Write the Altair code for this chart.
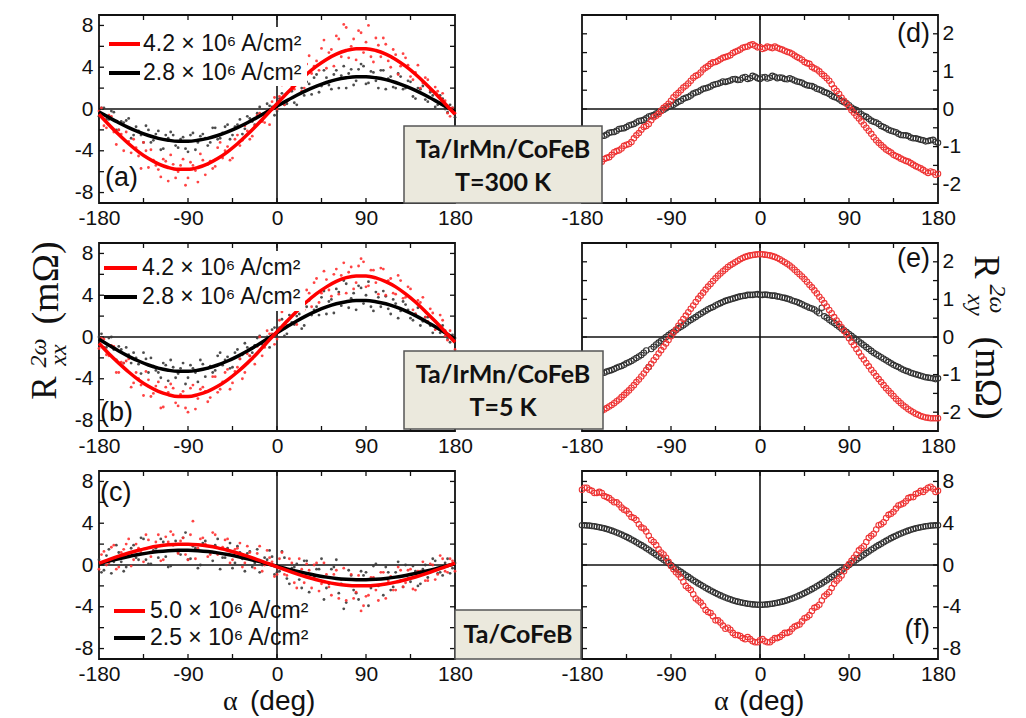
import altair as alt
import pandas as pd

# ---------------- data ----------------
ANG5 = list(range(-180, 185, 5))               # angles of measured points
ANGM = [a + 2.5 for a in range(-180, 180, 5)]  # in-between angles (second sweep)
ANG10 = list(range(-180, 190, 10))             # angles of fitted curves

# (a) Ta/IrMn/CoFeB, 300 K  -- R_xx
a_red_dots = [-0.2, -1.6, -0.6, -2.2, -2.0, -4.0, -3.1, -2.9, -4.5, -3.2,
              -5.6, -4.9, -5.8, -4.8, -6.9, -5.3, -6.0, -4.8, -6.6, -5.4,
              -7.0, -4.9, -5.3, -5.7, -3.7, -4.7, -3.6, -4.7, -2.5, -3.0,
              -2.1, -2.6, -0.6, -1.2, -0.2, 0.7, 0.0, 2.3, 0.7, 2.2,
              3.1, 1.7, 4.3, 3.4, 4.6, 5.8, 3.9, 5.7, 7.0, 5.0,
              7.8, 6.0, 4.7, 7.3, 6.4, 5.0, 6.8, 5.0, 6.2, 4.0,
              5.2, 4.1, 4.9, 3.1, 3.5, 2.0, 3.0, 1.8, 2.1, 0.6,
              0.8, -0.7, -0.4]
a_red_mid = [0.1, -1.8, -0.7, -3.4, -2.4, -2.2, -4.2, -3.7, -5.7, -4.0,
             -3.9, -5.4, -6.5, -5.0, -4.4, -6.6, -5.4, -7.3, -5.1, -5.9,
             -4.3, -6.3, -5.0, -5.5, -3.2, -4.0, -4.9, -2.9, -3.5, -1.6,
             -2.9, -1.6, -0.4, -1.3, -1.5, 1.1, 1.2, 0.4, 3.0, 1.9,
             3.4, 2.0, 5.1, 4.1, 3.7, 6.6, 5.4, 4.1, 6.7, 8.1,
             4.9, 6.7, 7.5, 5.4, 8.0, 4.5, 6.1, 6.8, 4.6, 5.7,
             3.3, 5.3, 4.2, 2.8, 4.2, 2.5, 2.8, 0.9, 1.7, 1.5,
             -0.4, 0.1]
a_blk_dots = [-0.7, 0.1, -1.0, -0.3, -2.0, -1.3, -0.9, -2.5, -2.1, -3.2,
              -2.0, -3.0, -2.1, -3.8, -2.8, -2.5, -3.7, -2.7, -4.1, -2.3,
              -3.2, -2.4, -3.5, -1.8, -2.9, -2.3, -1.5, -2.5, -1.5, -2.4,
              -0.7, -1.2, -0.4, -1.1, 0.5, 0.2, -0.2, 1.5, 0.5, 1.7,
              0.4, 2.0, 2.6, 1.4, 3.3, 2.2, 3.0, 1.9, 3.7, 3.2,
              2.0, 3.8, 2.7, 4.3, 2.4, 3.6, 2.7, 3.7, 1.9, 3.1,
              2.0, 3.1, 2.0, 2.6, 1.0, 1.9, 0.9, 1.6, 0.2, 1.3,
              0.0, 0.4, -0.8]
a_blk_mid = [0.1, -1.0, -0.2, -2.0, -1.2, -1.1, -2.8, -1.7, -2.5, -1.6,
             -3.2, -2.4, -3.9, -2.5, -2.2, -3.5, -2.9, -3.8, -2.5, -3.9,
             -2.6, -2.8, -3.2, -1.8, -2.8, -1.7, -2.9, -1.7, -1.0, -1.9,
             -0.9, -1.5, 0.2, -0.6, 0.3, -0.6, 1.0, 0.4, 1.7, 0.6,
             2.4, 1.3, 2.4, 3.0, 1.6, 3.7, 2.3, 3.3, 2.0, 4.1,
             3.4, 2.3, 3.8, 4.1, 2.5, 3.5, 2.0, 3.7, 2.9, 2.1,
             3.4, 1.9, 2.7, 1.2, 2.0, 2.2, 0.7, 1.3, 0.4, 1.0,
             -0.3, 0.1]
a_red_fit = [-0.5, -1.5, -2.45, -3.33, -4.1, -4.75, -5.25, -5.6, -5.78, -5.78,
             -5.6, -5.25, -4.75, -4.1, -3.33, -2.45, -1.5, -0.5, 0.5, 1.5,
             2.45, 3.33, 4.1, 4.75, 5.25, 5.6, 5.78, 5.78, 5.6, 5.25,
             4.75, 4.1, 3.33, 2.45, 1.5, 0.5, -0.5]
a_blk_fit = [-0.27, -0.8, -1.31, -1.78, -2.19, -2.54, -2.81, -2.99, -3.09, -3.09,
             -2.99, -2.81, -2.54, -2.19, -1.78, -1.31, -0.8, -0.27, 0.27, 0.8,
             1.31, 1.78, 2.19, 2.54, 2.81, 2.99, 3.09, 3.09, 2.99, 2.81,
             2.54, 2.19, 1.78, 1.31, 0.8, 0.27, -0.27]

# (b) Ta/IrMn/CoFeB, 5 K  -- R_xx
b_red_dots = [-1.1, -0.2, -1.8, -0.9, -3.4, -2.5, -2.1, -4.4, -4.0, -5.6,
              -4.1, -5.4, -4.3, -6.7, -5.3, -4.9, -6.6, -5.2, -7.2, -4.6,
              -5.9, -4.8, -6.2, -3.8, -5.3, -4.3, -3.1, -4.4, -2.9, -4.0,
              -1.6, -2.1, -0.9, -1.8, 0.6, 0.3, -0.2, 2.4, 1.1, 2.8,
              1.2, 3.5, 4.5, 2.9, 5.6, 4.2, 5.5, 3.9, 6.5, 5.9,
              4.2, 6.7, 5.2, 7.5, 4.8, 6.4, 5.2, 6.6, 4.0, 5.6,
              4.1, 5.4, 3.8, 4.6, 2.2, 3.3, 1.9, 2.7, 0.7, 2.1,
              0.1, 0.6, -1.2]
b_red_mid = [-0.1, -1.7, -0.8, -3.4, -2.4, -2.3, -4.8, -3.4, -4.6, -3.3,
             -5.7, -4.7, -6.8, -4.8, -4.5, -6.3, -5.5, -6.8, -4.9, -6.9,
             -5.0, -5.2, -5.8, -3.8, -5.0, -3.4, -5.0, -3.3, -2.1, -3.4,
             -1.8, -2.6, 0.0, -1.0, 0.3, -0.7, 1.6, 0.8, 2.9, 1.4,
             4.1, 2.6, 4.2, 5.2, 3.3, 6.3, 4.5, 6.0, 4.1, 7.1,
             6.2, 4.6, 6.8, 7.2, 4.9, 6.4, 4.1, 6.5, 5.4, 4.2,
             5.9, 3.7, 4.8, 2.6, 3.5, 3.8, 1.5, 2.3, 0.8, 1.6,
             -0.3, 0.0]
b_blk_dots = [0.0, -1.0, -0.1, -1.2, -0.9, -2.5, -1.7, -1.5, -2.6, -1.5,
              -3.4, -2.8, -3.4, -2.5, -4.2, -2.9, -3.5, -2.5, -3.9, -3.0,
              -4.3, -2.6, -3.0, -3.4, -1.8, -2.7, -1.9, -2.9, -1.2, -1.7,
              -1.0, -1.5, -0.1, -0.7, 0.0, 0.7, 0.0, 1.7, 0.3, 1.4,
              2.0, 0.8, 2.9, 2.1, 2.9, 3.8, 2.2, 3.6, 4.6, 3.0,
              5.1, 3.7, 2.6, 4.7, 4.0, 2.9, 4.3, 2.9, 3.9, 2.2,
              3.2, 2.5, 3.1, 1.8, 2.2, 1.1, 1.9, 1.1, 1.5, 0.4,
              0.6, -0.5, -0.1]
b_blk_mid = [0.3, -1.0, 0.0, -2.2, -1.2, -1.0, -2.5, -2.0, -3.5, -2.1,
             -2.0, -3.2, -3.9, -2.7, -2.2, -3.9, -3.0, -4.5, -2.7, -3.4,
             -2.2, -3.8, -2.8, -3.2, -1.5, -2.2, -3.0, -1.5, -2.1, -0.6,
             -1.8, -0.8, 0.1, -0.8, -1.0, 0.9, 0.9, 0.1, 2.1, 1.2,
             2.2, 1.1, 3.5, 2.6, 2.1, 4.4, 3.4, 2.3, 4.3, 5.4,
             2.8, 4.2, 4.9, 3.2, 5.3, 2.5, 3.8, 4.4, 2.7, 3.6,
             1.8, 3.4, 2.6, 1.6, 2.8, 1.5, 1.9, 0.4, 1.2, 1.1,
             -0.2, 0.2]
b_red_fit = [-0.6, -1.6, -2.5, -3.35, -4.1, -4.72, -5.2, -5.52, -5.7, -5.7,
             -5.52, -5.2, -4.72, -4.1, -3.35, -2.5, -1.55, -0.5, 0.5, 1.5,
             2.47, 3.37, 4.15, 4.8, 5.32, 5.68, 5.85, 5.85, 5.66, 5.3,
             4.8, 4.13, 3.35, 2.45, 1.5, 0.5, -0.5]
b_blk_fit = [-0.2, -0.78, -1.34, -1.85, -2.3, -2.68, -2.98, -3.18, -3.29, -3.29,
             -3.18, -2.98, -2.68, -2.3, -1.85, -1.34, -0.78, -0.2, 0.4, 0.98,
             1.54, 2.05, 2.5, 2.88, 3.18, 3.38, 3.49, 3.49, 3.38, 3.18,
             2.88, 2.5, 2.05, 1.54, 0.98, 0.4, -0.2]

# (c) Ta/CoFeB -- R_xx
c_red_dots = [-0.4, 1.3, 0.2, 1.9, -0.2, 1.5, 2.5, 0.5, 1.6, 0.3,
              2.4, 1.3, 2.9, 0.5, 2.2, 2.9, 1.1, 2.6, 0.5, 4.2,
              1.6, 2.6, 0.8, 3.1, 1.0, 1.7, 2.5, 0.5, 1.6, -0.2,
              1.8, 0.5, 1.1, -0.6, 1.4, 0.3, -0.9, 1.2, -1.0, 0.2,
              -2.2, -0.4, 0.1, -2.2, 0.2, -1.8, -0.9, -2.9, -0.5, -1.4,
              -3.4, -0.9, -2.6, -4.4, -3.0, -1.2, -2.4, -0.7, -3.2, -1.1,
              -2.4, -0.5, -1.7, -0.4, -2.4, -0.6, -1.5, 0.1, -1.4, 0.9,
              -0.6, 0.6, -0.6]
c_red_mid = [1.0, 0.0, 1.7, -0.4, 1.2, 2.0, -0.1, 2.0, 1.2, 2.9,
             0.8, 2.2, 0.4, 2.7, 3.2, 1.4, 2.3, 1.0, 2.9, 0.6,
             2.5, 2.0, 1.0, 2.9, 1.1, 2.4, 0.2, 1.5, 2.1, 0.2,
             1.2, -0.3, 1.8, 0.0, 0.7, -1.1, 0.6, -0.9, 0.6, -1.7,
             0.6, -1.7, -0.5, 0.0, -2.5, 0.2, -2.1, -0.9, -3.2, -0.3,
             -1.4, -3.2, -1.0, -3.9, -2.9, -1.2, -3.4, -0.7, -1.5, -2.4,
             -0.2, -2.1, -0.5, -2.3, -0.6, 0.3, -1.5, 0.0, -0.9, 0.6,
             -0.7, 0.4]
c_blk_dots = [0.5, -0.5, 1.5, 0.3, 1.2, -0.6, 1.1, 1.9, 0.5, 2.5,
              0.1, 1.4, 0.7, 2.2, -0.2, 1.9, 1.2, 2.6, 0.5, 1.8,
              -0.3, 2.1, 1.3, 0.4, 2.5, 0.7, 1.6, -0.3, 1.8, 0.6,
              1.1, -0.2, 1.5, 0.0, 0.5, 0.8, -0.7, 1.3, -1.3, -0.3,
              0.1, -2.2, 0.4, -1.3, -0.4, 0.6, -2.2, -0.4, 0.5, -1.8,
              -3.6, -1.0, -2.7, -0.6, -0.7, -2.2, 0.1, -1.9, -0.2, -2.4,
              -0.7, -1.5, 0.0, -1.6, -0.6, -1.8, 0.0, -0.7, 0.4, -0.7,
              0.2, -0.8, 0.2]
c_blk_mid = [-0.7, 0.9, -0.8, 1.9, 0.3, -0.2, 1.6, 0.7, 2.6, 0.5,
             0.1, 1.6, 2.5, 0.8, -0.1, 2.3, 1.0, 3.1, 0.6, 1.6,
             0.0, 2.3, 1.2, 1.9, -0.4, 0.7, 2.1, 0.2, 1.2, -0.6,
             1.3, 0.2, -0.7, 0.7, 1.4, -0.9, -0.6, 0.7, -1.8, -0.2,
             -1.4, 0.4, -2.6, -1.2, -0.4, -3.3, -1.8, -0.2, -2.7, -4.2,
             -0.5, -2.4, -3.3, -1.0, -3.9, -0.1, -2.0, -2.9, -0.7, -2.1,
             0.3, -2.1, -1.3, -0.1, -2.0, -0.4, -1.2, 0.6, -0.8, -1.0,
             0.6, -0.3]
c_red_fit = [0.17, 0.52, 0.85, 1.15, 1.41, 1.64, 1.81, 1.93, 1.99, 1.99,
             1.93, 1.81, 1.64, 1.41, 1.15, 0.85, 0.52, 0.17, -0.17, -0.52,
             -0.85, -1.15, -1.41, -1.64, -1.81, -1.93, -1.99, -1.99, -1.93, -1.81,
             -1.64, -1.41, -1.15, -0.85, -0.52, -0.17, 0.17]
c_blk_fit = [0.12, 0.37, 0.6, 0.82, 1.0, 1.16, 1.29, 1.37, 1.41, 1.41,
             1.37, 1.29, 1.16, 1.0, 0.82, 0.6, 0.37, 0.12, -0.12, -0.37,
             -0.6, -0.82, -1.0, -1.16, -1.29, -1.37, -1.41, -1.41, -1.37, -1.29,
             -1.16, -1.0, -0.82, -0.6, -0.37, -0.12, 0.12]

# (d) 300 K -- R_xy
d_red = [-1.60, -1.52, -1.55, -1.45, -1.40, -1.30, -1.22, -1.12, -1.05, -0.95,
         -0.88, -0.70, -0.55, -0.45, -0.30, -0.18, -0.05, 0.08, 0.22, 0.38,
         0.50, 0.62, 0.75, 0.88, 0.97, 1.10, 1.20, 1.25, 1.32, 1.38,
         1.43, 1.52, 1.58, 1.65, 1.70, 1.68, 1.65, 1.62, 1.64, 1.66,
         1.60, 1.55, 1.50, 1.42, 1.35, 1.25, 1.20, 1.08, 1.00, 0.88,
         0.75, 0.55, 0.40, 0.22, 0.05, -0.10, -0.25, -0.42, -0.58, -0.75,
         -0.90, -1.02, -1.12, -1.22, -1.28, -1.35, -1.40, -1.48, -1.55, -1.62,
         -1.70, -1.68, -1.72]
d_red_mid = [-1.58, -1.50, -1.48, -1.44, -1.33, -1.28, -1.15, -1.10, -0.98, -0.93,
             -0.78, -0.64, -0.48, -0.40, -0.22, -0.13, 0.03, 0.14, 0.31, 0.43,
             0.57, 0.68, 0.83, 0.91, 1.05, 1.14, 1.24, 1.28, 1.36, 1.40,
             1.49, 1.55, 1.63, 1.66, 1.72, 1.64, 1.60, 1.66, 1.62, 1.63,
             1.58, 1.52, 1.47, 1.38, 1.31, 1.22, 1.12, 1.05, 0.93, 0.82,
             0.66, 0.48, 0.30, 0.14, -0.03, -0.18, -0.33, -0.50, -0.66, -0.83,
             -0.96, -1.08, -1.16, -1.25, -1.32, -1.38, -1.44, -1.52, -1.58, -1.66,
             -1.66, -1.75]
d_blk = [-0.85, -0.82, -0.78, -0.80, -0.72, -0.68, -0.62, -0.58, -0.52, -0.48,
         -0.42, -0.36, -0.31, -0.25, -0.18, -0.12, -0.05, 0.02, 0.08, 0.15,
         0.22, 0.30, 0.36, 0.44, 0.50, 0.55, 0.60, 0.66, 0.70, 0.72,
         0.76, 0.80, 0.78, 0.85, 0.82, 0.86, 0.80, 0.85, 0.83, 0.86,
         0.84, 0.80, 0.82, 0.76, 0.72, 0.66, 0.62, 0.58, 0.52, 0.45,
         0.40, 0.32, 0.26, 0.18, 0.10, 0.00, -0.08, -0.18, -0.26, -0.34,
         -0.40, -0.48, -0.55, -0.60, -0.66, -0.70, -0.72, -0.78, -0.80, -0.83,
         -0.85, -0.82, -0.90]
d_blk_mid = [-0.80, -0.84, -0.76, -0.75, -0.71, -0.63, -0.61, -0.53, -0.51, -0.44,
             -0.40, -0.32, -0.29, -0.20, -0.16, -0.08, -0.02, 0.06, 0.11, 0.19,
             0.27, 0.32, 0.41, 0.46, 0.54, 0.57, 0.64, 0.67, 0.73, 0.74,
             0.79, 0.77, 0.83, 0.80, 0.88, 0.82, 0.84, 0.81, 0.88, 0.82,
             0.83, 0.79, 0.79, 0.73, 0.70, 0.63, 0.61, 0.54, 0.49, 0.43,
             0.35, 0.30, 0.21, 0.15, 0.04, -0.03, -0.14, -0.21, -0.31, -0.36,
             -0.45, -0.51, -0.58, -0.62, -0.69, -0.70, -0.76, -0.78, -0.82, -0.86,
             -0.83, -0.87]

# (e) 5 K -- R_xy
e_red = [-2.08, -2.07, -2.05, -2.02, -1.96, -1.89, -1.81, -1.71, -1.60, -1.48,
         -1.35, -1.20, -1.05, -0.88, -0.71, -0.53, -0.35, -0.17, 0.02, 0.20,
         0.39, 0.57, 0.75, 0.93, 1.10, 1.26, 1.41, 1.56, 1.69, 1.80,
         1.91, 1.99, 2.07, 2.13, 2.17, 2.19, 2.20, 2.19, 2.17, 2.13,
         2.07, 1.99, 1.90, 1.79, 1.67, 1.54, 1.39, 1.24, 1.07, 0.90,
         0.72, 0.53, 0.35, 0.16, -0.03, -0.22, -0.41, -0.60, -0.78, -0.95,
         -1.12, -1.28, -1.43, -1.57, -1.70, -1.82, -1.92, -2.00, -2.07, -2.12,
         -2.15, -2.16, -2.16]
e_red_mid = [-2.08, -2.06, -2.04, -1.99, -1.93, -1.85, -1.76, -1.66, -1.54, -1.42,
             -1.28, -1.13, -0.97, -0.80, -0.62, -0.44, -0.26, -0.08, 0.11, 0.30,
             0.48, 0.66, 0.84, 1.02, 1.18, 1.34, 1.49, 1.63, 1.75, 1.86,
             1.95, 2.03, 2.10, 2.15, 2.18, 2.20, 2.20, 2.18, 2.15, 2.10,
             2.03, 1.95, 1.85, 1.73, 1.61, 1.47, 1.32, 1.16, 0.99, 0.81,
             0.63, 0.44, 0.26, 0.07, -0.13, -0.32, -0.51, -0.69, -0.87, -1.04,
             -1.20, -1.36, -1.50, -1.64, -1.76, -1.87, -1.96, -2.04, -2.10, -2.14,
             -2.16, -2.16]
e_blk = [-1.02, -1.05, -1.00, -0.98, -0.96, -0.92, -0.88, -0.82, -0.77, -0.70,
         -0.64, -0.56, -0.48, -0.36, -0.32, -0.20, -0.10, 0.00, 0.10, 0.18,
         0.27, 0.36, 0.45, 0.53, 0.62, 0.70, 0.77, 0.84, 0.90, 0.96,
         1.00, 1.04, 1.08, 1.10, 1.12, 1.13, 1.12, 1.13, 1.11, 1.10,
         1.07, 1.04, 1.00, 0.95, 0.90, 0.84, 0.78, 0.73, 0.63, 0.55,
         0.46, 0.37, 0.27, 0.18, 0.08, -0.02, -0.12, -0.22, -0.32, -0.42,
         -0.50, -0.58, -0.66, -0.74, -0.80, -0.87, -0.92, -0.97, -1.01, -1.05,
         -1.08, -1.10, -1.10]
e_blk_mid = [-1.06, -1.01, -1.00, -0.96, -0.95, -0.90, -0.85, -0.79, -0.74, -0.67,
             -0.60, -0.52, -0.42, -0.80, -0.26, -0.15, -0.05, 0.05, 0.14, 0.23,
             0.31, 0.41, 0.49, 0.58, 0.66, 0.74, 0.80, 0.87, 0.93, 0.98,
             1.02, 1.06, 1.09, 1.12, 1.12, 1.14, 1.12, 1.12, 1.10, 1.08,
             1.05, 1.02, 0.97, 0.93, 0.87, 0.81, 0.76, 0.68, 0.78, 0.51,
             0.41, 0.32, 0.22, 0.13, 0.03, -0.07, -0.17, -0.27, -0.37, -0.46,
             -0.54, -0.62, -0.70, -0.77, -0.84, -0.90, -0.95, -0.99, -1.03, -1.07,
             -1.09, -1.12]

# (f) Ta/CoFeB -- R_xy
f_red = [7.2, 7.4, 7.1, 6.9, 6.9, 6.5, 6.2, 6.0, 5.5, 5.2,
         4.6, 4.3, 3.6, 3.2, 2.4, 1.9, 1.2, 0.7, -0.1, -0.7,
         -1.2, -2.0, -2.4, -3.2, -3.6, -4.3, -4.6, -5.3, -5.5, -6.1,
         -6.2, -6.7, -6.8, -7.1, -7.1, -7.4, -7.2, -7.3, -7.4, -7.0,
         -6.9, -6.5, -6.4, -5.9, -5.7, -5.1, -4.8, -4.1, -3.8, -3.0,
         -2.6, -1.8, -1.3, -0.6, 0.1, 0.7, 1.4, 1.8, 2.6, 3.0,
         3.8, 4.1, 4.8, 5.1, 5.7, 5.9, 6.4, 6.5, 6.9, 7.0,
         7.4, 7.3, 7.1]
f_red_mid = [7.4, 7.2, 6.9, 7.0, 6.6, 6.4, 6.0, 5.8, 5.3, 4.9,
             4.5, 3.9, 3.5, 2.8, 2.2, 1.5, 1.0, 0.3, -0.4, -0.9,
             -1.6, -2.2, -2.8, -3.4, -3.9, -4.5, -4.9, -5.3, -5.8, -6.0,
             -6.5, -6.7, -7.0, -6.9, -7.3, -7.4, -7.1, -7.4, -7.2, -7.0,
             -6.7, -6.5, -6.1, -5.8, -5.4, -5.0, -4.4, -4.0, -3.4, -2.8,
             -2.2, -1.5, -1.0, -0.2, 0.4, 1.0, 1.6, 2.2, 2.8, 3.4,
             3.9, 4.5, 4.9, 5.4, 5.8, 6.1, 6.5, 6.8, 7.1, 7.2,
             7.5, 7.0]
f_blk = [3.80, 3.79, 3.74, 3.67, 3.57, 3.44, 3.29, 3.11, 2.91, 2.69,
         2.44, 2.18, 1.90, 1.61, 1.30, 0.98, 0.66, 0.33, 0.00, -0.33,
         -0.66, -0.98, -1.30, -1.61, -1.90, -2.18, -2.44, -2.69, -2.91, -3.11,
         -3.29, -3.44, -3.57, -3.67, -3.74, -3.79, -3.80, -3.79, -3.74, -3.67,
         -3.57, -3.44, -3.29, -3.11, -2.91, -2.69, -2.44, -2.18, -1.90, -1.61,
         -1.30, -0.98, -0.66, -0.33, 0.00, 0.33, 0.66, 0.98, 1.30, 1.61,
         1.90, 2.18, 2.44, 2.69, 2.91, 3.11, 3.29, 3.44, 3.57, 3.67,
         3.74, 3.79, 3.80]
f_blk_mid = [3.80, 3.77, 3.71, 3.62, 3.51, 3.37, 3.20, 3.01, 2.80, 2.57,
             2.31, 2.04, 1.76, 1.46, 1.14, 0.82, 0.50, 0.17, -0.17, -0.50,
             -0.82, -1.14, -1.46, -1.76, -2.04, -2.31, -2.57, -2.80, -3.01, -3.20,
             -3.37, -3.51, -3.62, -3.71, -3.77, -3.80, -3.80, -3.77, -3.71, -3.62,
             -3.51, -3.37, -3.20, -3.01, -2.80, -2.57, -2.31, -2.04, -1.76, -1.46,
             -1.14, -0.82, -0.50, -0.17, 0.17, 0.50, 0.82, 1.14, 1.46, 1.76,
             2.04, 2.31, 2.57, 2.80, 3.01, 3.20, 3.37, 3.51, 3.62, 3.71,
             3.77, 3.80]

X_LABELS = [-180, -90, 0, 90, 180]
X_TICKS = [-135, -90, -45, 0, 45, 90, 135]
Y_LAB_BIG = [-8, -4, 0, 4, 8]
Y_TICK_BIG = [-8, -6, -4, -2, 0, 2, 4, 6, 8]
Y_LAB_SMALL = [-2, -1, 0, 1, 2]
Y_TICK_SMALL = [-2, -1.5, -1, -0.5, 0, 0.5, 1, 1.5, 2]

# ---------------- style ----------------
W, H = 356, 188
FONT = "Liberation Sans"
SERIF = "Liberation Serif"
BOX_FONT = "Lato"
RED_LINE = "#ff0000"
RED_DOT = "#ff3030"
RED_CIRC = "#ee3434"
BLK_DOT = "#3a3a3a"
BLK_CIRC = "#333333"
INK = "#111111"
TICK_FS = 21
one = pd.DataFrame({"k": [0]})
XSC = alt.Scale(domain=[-180, 180], nice=False, zero=False)
LABEL_EXPR = "replace(datum.label, '\u2212', '-')"


def xaxis():
    return alt.Axis(values=X_LABELS, title=None, ticks=False, domain=False, grid=False,
                    labelPadding=4, labelFlush=False, labelOverlap=False,
                    labelExpr=LABEL_EXPR, labelFontSize=TICK_FS,
                    labelFont=FONT, labelColor=INK)


def yaxis(vals, orient):
    return alt.Axis(values=vals, orient=orient, title=None, ticks=False, domain=False,
                    grid=False, labelPadding=6 if orient == "left" else 4,
                    labelOverlap=False, labelFlush=False,
                    labelExpr=LABEL_EXPR, labelFontSize=TICK_FS,
                    labelFont=FONT, labelColor=INK)


def frame_layers(ysc, ytick_vals, xax, yax):
    xt = pd.DataFrame({"a": X_TICKS})
    yt = pd.DataFrame({"v": ytick_vals})
    zero_y = pd.DataFrame({"v": [0]})
    zero_x = pd.DataFrame({"a": [0]})
    L = 5
    st = dict(color=INK, strokeWidth=1.3)
    X = alt.X("a:Q", scale=XSC, axis=xax)
    Y = alt.Y("v:Q", scale=ysc, axis=yax)
    return [
        alt.Chart(zero_y).mark_rule(color=INK, strokeWidth=1.6).encode(y=Y),
        alt.Chart(zero_x).mark_rule(color=INK, strokeWidth=1.6).encode(x=X),
        alt.Chart(xt).mark_rule(**st).encode(x=X, y=alt.value(H), y2=alt.value(H - L)),
        alt.Chart(xt).mark_rule(**st).encode(x=X, y=alt.value(0), y2=alt.value(L)),
        alt.Chart(yt).mark_rule(**st).encode(y=Y, x=alt.value(0), x2=alt.value(L)),
        alt.Chart(yt).mark_rule(**st).encode(y=Y, x=alt.value(W), x2=alt.value(W - L)),
    ]


def txt(s, x, y, size, align="left", baseline="middle", angle=0, font=FONT,
        weight="normal", style="normal"):
    kw = dict(text=s, fontSize=size, font=font, align=align, baseline=baseline,
              fontWeight=weight, fontStyle=style, color=INK)
    if angle:
        kw["angle"] = angle
    return alt.Chart(one).mark_text(**kw).encode(x=alt.value(x), y=alt.value(y))


def seg(x1, x2, y, color):
    return alt.Chart(one).mark_rule(color=color, strokeWidth=4).encode(
        x=alt.value(x1), x2=alt.value(x2), y=alt.value(y))


def box(x1, x2, y1, y2, fill="#ebe9dd", stroke="#555555"):
    kw = dict(fill=fill)
    if stroke:
        kw.update(stroke=stroke, strokeWidth=1.5)
    return alt.Chart(one).mark_rect(**kw).encode(
        x=alt.value(x1), x2=alt.value(x2), y=alt.value(y1), y2=alt.value(y2))


def legend(xl1, xl2, xt, y1, y2, lab1, lab2, bg=None):
    out = []
    if bg:
        out.append(box(*bg, fill="white", stroke=None))
    return out + [seg(xl1, xl2, y1, RED_LINE), txt(lab1, xt, y1, 23),
                  seg(xl1, xl2, y2, "black"), txt(lab2, xt, y2, 23)]


def pts(main, mid):
    return pd.DataFrame({"a": ANG5 + ANGM, "v": main + mid})


def left_panel(red_dots, red_mid, blk_dots, blk_mid, red_fit, blk_fit, extra):
    ysc = alt.Scale(domain=[-9, 9], nice=False, zero=False)
    xax, yax = xaxis(), yaxis(Y_LAB_BIG, "left")
    enc = dict(x=alt.X("a:Q", scale=XSC, axis=xax), y=alt.Y("v:Q", scale=ysc, axis=yax))
    fr = pd.DataFrame({"a": ANG10, "v": red_fit})
    fb = pd.DataFrame({"a": ANG10, "v": blk_fit})
    layers = frame_layers(ysc, Y_TICK_BIG, xax, yax)
    layers += [
        alt.Chart(pts(blk_dots, blk_mid)).mark_circle(size=8, color=BLK_DOT, opacity=0.9).encode(**enc),
        alt.Chart(pts(red_dots, red_mid)).mark_circle(size=8, color=RED_DOT, opacity=0.9).encode(**enc),
        alt.Chart(fb).mark_line(color="black", strokeWidth=3.5, interpolate="monotone").encode(**enc),
        alt.Chart(fr).mark_line(color=RED_LINE, strokeWidth=3.5, interpolate="monotone").encode(**enc),
    ]
    layers += extra
    return alt.layer(*layers).properties(width=W, height=H)


def right_panel(red, red_mid, blk, blk_mid, ydom, ylabs, yticks, extra):
    ysc = alt.Scale(domain=ydom, nice=False, zero=False)
    xax, yax = xaxis(), yaxis(ylabs, "right")
    enc = dict(x=alt.X("a:Q", scale=XSC, axis=xax), y=alt.Y("v:Q", scale=ysc, axis=yax))
    layers = frame_layers(ysc, yticks, xax, yax)
    layers += [
        alt.Chart(pts(blk, blk_mid)).mark_point(shape="circle", filled=False, size=30, strokeWidth=1.1,
                                                color=BLK_CIRC, opacity=1).encode(**enc),
        alt.Chart(pts(red, red_mid)).mark_point(shape="circle", filled=False, size=30, strokeWidth=1.1,
                                                color=RED_CIRC, opacity=1).encode(**enc),
    ]
    layers += extra
    return alt.layer(*layers).properties(width=W, height=H)


LEG_HI = ("4.2 \u00d7 10\u2076 A/cm\u00b2", "2.8 \u00d7 10\u2076 A/cm\u00b2")
LEG_C = ("5.0 \u00d7 10\u2076 A/cm\u00b2", "2.5 \u00d7 10\u2076 A/cm\u00b2")

pa = left_panel(a_red_dots, a_red_mid, a_blk_dots, a_blk_mid, a_red_fit, a_blk_fit,
                legend(10, 41, 44, 29, 58, *LEG_HI, bg=(6, 208, 12, 71)) + [txt("(a)", 6, 163, 27)])

pb = left_panel(b_red_dots, b_red_mid, b_blk_dots, b_blk_mid, b_red_fit, b_blk_fit,
                legend(5, 38, 43, 25, 54, *LEG_HI, bg=(6, 206, 8, 68)) + [
                    txt("(b)", 1, 170, 27),
                    # y-axis title R_xx^{2w} (mOhm), rotated
                    txt("R", -43, 145, 35, align="center", baseline="alphabetic", angle=270, font=SERIF),
                    txt("xx", -33, 112, 24, align="center", baseline="alphabetic", angle=270, font=SERIF, style="italic"),
                    txt("2\u03c9", -53, 110, 24, align="center", baseline="alphabetic", angle=270, font=SERIF, style="italic"),
                    txt("(m\u03a9)", -41, 40, 38, align="center", baseline="alphabetic", angle=270, font=SERIF),
                ])

pc = left_panel(c_red_dots, c_red_mid, c_blk_dots, c_blk_mid, c_red_fit, c_blk_fit,
                legend(15, 46, 51, 140, 167, *LEG_C) + [
                    txt("(c)", 1, 22, 27),
                    txt("\u03b1", 124, 239, 28, baseline="alphabetic", font=SERIF),
                    txt("(deg)", 151, 239, 28, baseline="alphabetic"),
                ])

pd_ = right_panel(d_red, d_red_mid, d_blk, d_blk_mid, [-2.5, 2.5], Y_LAB_SMALL, Y_TICK_SMALL, [
    txt("(d)", 348, 19, 27, align="right"),
    box(-178, 20, 111, 188),
    txt("Ta/IrMn/CoFeB", -79, 135, 25, align="center", font=BOX_FONT, weight="bold"),
    txt("T=300 K", -79, 168, 25, align="center", font=BOX_FONT, weight="bold"),
])

pe = right_panel(e_red, e_red_mid, e_blk, e_blk_mid, [-2.5, 2.5], Y_LAB_SMALL, Y_TICK_SMALL, [
    txt("(e)", 348, 16, 27, align="right"),
    box(-178, 21, 108, 186),
    txt("Ta/IrMn/CoFeB", -79, 132, 25, align="center", font=BOX_FONT, weight="bold"),
    txt("T=5 K", -79, 165, 25, align="center", font=BOX_FONT, weight="bold"),
    # right y-axis title R_xy^{2w} (mOhm), rotated
    txt("R", 393, 24, 35, align="center", baseline="alphabetic", angle=90, font=SERIF),
    txt("2\u03c9", 408, 56, 24, align="center", baseline="alphabetic", angle=90, font=SERIF, style="italic"),
    txt("xy", 386, 62, 24, align="center", baseline="alphabetic", angle=90, font=SERIF, style="italic"),
    txt("(m\u03a9)", 394, 135, 38, align="center", baseline="alphabetic", angle=90, font=SERIF),
])

pf = right_panel(f_red, f_red_mid, f_blk, f_blk_mid, [-9, 9], Y_LAB_BIG, Y_TICK_BIG, [
    txt("(f)", 348, 159, 27, align="right"),
    box(-127, -1, 139, 188),
    txt("Ta/CoFeB", -64, 164, 25, align="center", font=BOX_FONT, weight="bold"),
    txt("\u03b1", 132, 239, 28, baseline="alphabetic", font=SERIF),
    txt("(deg)", 157, 239, 28, baseline="alphabetic"),
])

chart = alt.concat(pa, pd_, pb, pe, pc, pf, columns=2,
                   spacing={"row": 40, "column": 127}, bounds="flush").properties(
    padding={"left": 26, "top": 13, "right": 5, "bottom": 5},
    background="white",
).configure_view(stroke=INK, strokeWidth=1.8)

chart.save("out.html", embed_options={"renderer": "svg", "actions": False})
